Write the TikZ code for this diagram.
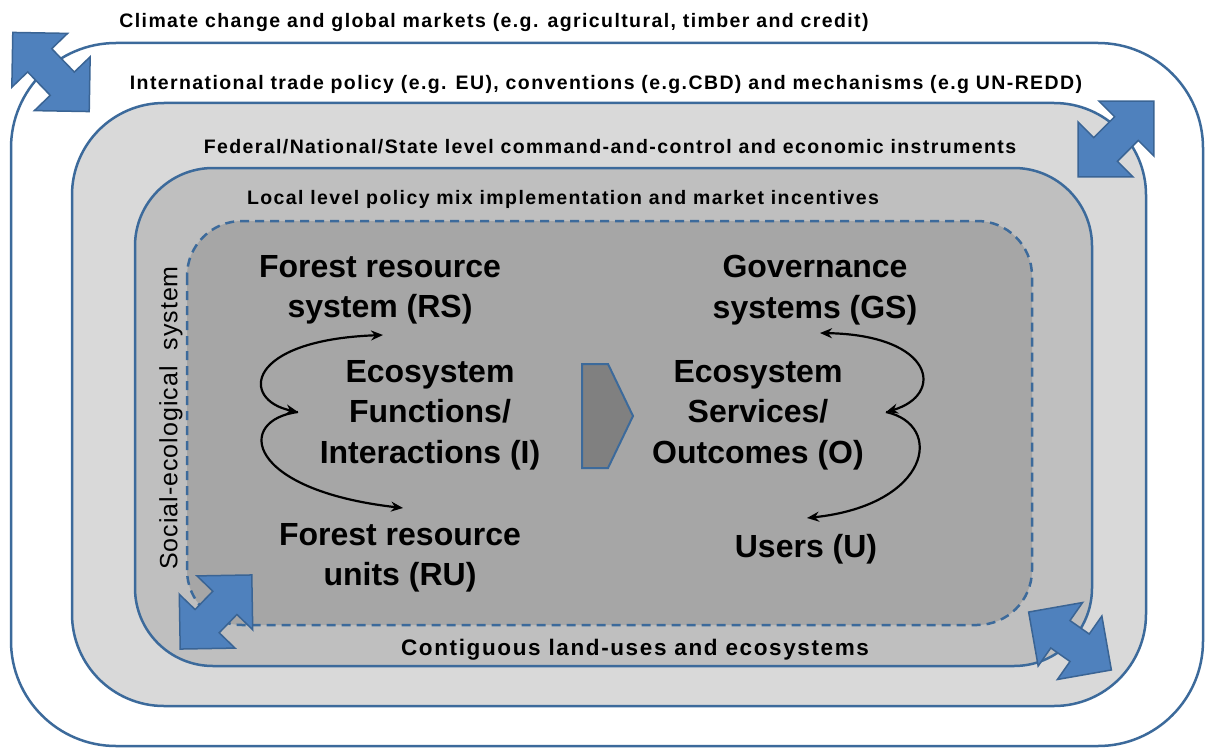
\documentclass[tikz,border=0pt]{standalone}
\usepackage{fontspec}
\setmainfont{Liberation Sans}
\newfontfamily\spacedfont[LetterSpace=7.2]{Liberation Sans}
\newfontfamily\sesfont[LetterSpace=4]{Liberation Sans}
\usetikzlibrary{shapes.arrows,arrows.meta}
\definecolor{lineblue}{HTML}{3C6A9B}
\definecolor{fillblue}{HTML}{4F81BD}
\definecolor{edgeblue}{HTML}{3A6494}
\definecolor{grayA}{HTML}{D9D9D9}
\definecolor{grayB}{HTML}{BFBFBF}
\definecolor{grayC}{HTML}{A6A6A6}
\definecolor{grayD}{HTML}{808080}
\begin{document}
\begin{tikzpicture}[x=1pt,y=-1pt,
  layer/.style={draw=lineblue, line width=2.5pt},
  small/.style={font=\spacedfont\fontsize{19.5}{23}\selectfont\bfseries, inner sep=0pt, anchor=base},
  big/.style={font=\fontsize{32}{40.5}\selectfont\bfseries, align=center, inner sep=0pt},
  dbl/.style={double arrow, double arrow tip angle=90, double arrow head extend=22pt,
    inner xsep=0pt, inner ysep=16pt, fill=fillblue, draw=edgeblue, line width=1.5pt},
  link/.style={line width=2.2pt},
  >={Stealth[length=12pt,width=10pt]}
]
\useasboundingbox (0,0) rectangle (1209,749);
\fill[white] (0,0) rectangle (1209,749);
% nested layers
\draw[layer, fill=white, rounded corners=105pt] (11,43) rectangle (1203,746);
\draw[layer, fill=grayA, rounded corners=92pt] (72,103) rectangle (1146,706);
\draw[layer, fill=grayB, rounded corners=78pt] (135,168) rectangle (1092,666);
\draw[layer, fill=grayC, dashed, dash pattern=on 9pt off 6pt, rounded corners=55pt] (187,221) rectangle (1032,625);
% layer labels
\node[small] (t1) at (494,28) {Climate change and global markets (e.g. agricultural, timber and credit)};
\node[small] (t2) at (606,90) {International trade policy (e.g. EU), conventions (e.g.CBD) and mechanisms (e.g UN-REDD)};
\node[small] (t3) at (610,153) {Federal/National/State level command-and-control and economic instruments};
\node[small] (t4) at (563,204) {Local level policy mix implementation and market incentives};
\node[small, font=\spacedfont\fontsize{22.5}{26}\selectfont\bfseries] (t5) at (635,655) {Contiguous land-uses and ecosystems};
\node[font=\sesfont\fontsize{25}{29}\selectfont, inner sep=0pt, rotate=90, anchor=center] (ses) at (171,418) {Social-ecological\ \ system};
% core texts
\node[big] (rs) at (380,290) {Forest resource\\system (RS)};
\node[big] (fi) at (430,415) {Ecosystem\\Functions/\\Interactions (I)};
\node[big] (ru) at (400,558) {Forest resource\\units (RU)};
\node[big] (gs) at (815,290) {Governance\\systems (GS)};
\node[big] (so) at (758,415) {Ecosystem\\Services/\\Outcomes (O)};
\node[big] (us) at (806,549) {Users (U)};
% central arrow
\draw[line width=2pt, draw=lineblue, fill=grayD] (582,364) -- (608,364) -- (633,416) -- (608,468) -- (582,468) -- cycle;
% curved arrows
\coordinate (lt) at (383,335);
\coordinate (lm) at (298,412);
\coordinate (lb) at (403,508);
\coordinate (rt) at (820,333);
\coordinate (rm) at (886,412);
\coordinate (rb) at (807,518);
\draw[link,<->] (lm) .. controls (240,400) and (245,340) .. (lt);
\draw[link,->] (lm) .. controls (235,420) and (245,490) .. (lb);
\draw[link,<->] (rm) .. controls (945,395) and (935,335) .. (rt);
\draw[link,->] (rm) .. controls (945,425) and (930,505) .. (rb);
% blue double arrows
\node[dbl, minimum height=110pt, rotate=-46] (a1) at (51,72) {};
\node[dbl, minimum height=107pt, rotate=45] (a2) at (1116,139) {};
\node[dbl, minimum height=103pt, rotate=46] (a3) at (216,612) {};
\node[dbl, minimum height=101pt, rotate=-35] (a4) at (1070,641) {};
\end{tikzpicture}
\end{document}
